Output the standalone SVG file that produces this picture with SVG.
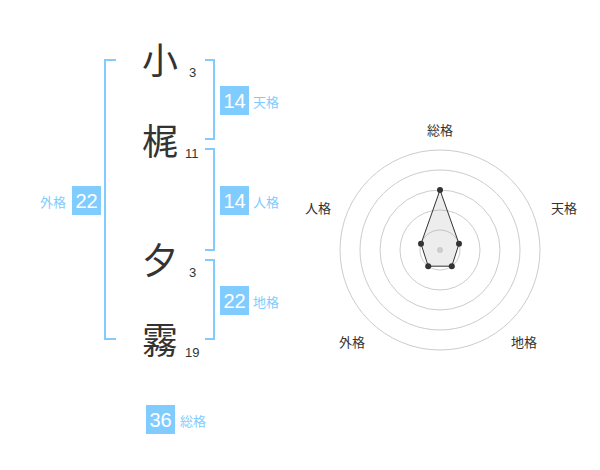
<svg xmlns="http://www.w3.org/2000/svg" width="600" height="470" viewBox="0 0 600 470">
<style>
.kanji{font-family:"Noto Sans CJK JP","Noto Sans CJK SC",sans-serif;font-size:36px;fill:#333;text-anchor:middle}
.cnt{font-family:"Liberation Sans",Arial,sans-serif;font-size:13px;fill:#333}
.br{fill:none;stroke:#80ccff;stroke-width:2}
.box{fill:#80ccff}
.bnum{font-family:"Liberation Sans",Arial,sans-serif;font-size:20px;fill:#fff;text-anchor:middle}
.blab{font-family:"Noto Sans CJK JP",sans-serif;font-size:13px;fill:#80ccff}
.ring{fill:none;stroke:#ccc;stroke-width:1}
.rlab{font-family:"Noto Sans CJK JP",sans-serif;font-size:13px;fill:#333;text-anchor:middle}
</style>
<rect width="600" height="470" fill="#fff"/>
<g id="connectors">
<path class="br" d="M116,60 H105 V339 H116"/>
<path class="br" d="M205,60 H214 V139 H205"/>
<path class="br" d="M205,149 H214 V250 H205"/>
<path class="br" d="M205,260 H214 V339 H205"/>
</g>
<g id="char1"><text class="kanji" x="160" y="74">小</text><text class="cnt" x="189" y="77">3</text></g>
<g id="char2"><text class="kanji" x="160" y="155">梶</text><text class="cnt" x="185" y="158">11</text></g>
<g id="char3"><text class="kanji" x="160" y="274">夕</text><text class="cnt" x="189" y="277">3</text></g>
<g id="char4"><text class="kanji" x="160" y="354">霧</text><text class="cnt" x="185" y="357">19</text></g>
<g id="tenkaku"><rect class="box" x="220" y="86" width="29" height="29"/><text class="bnum" x="234.5" y="108">14</text><text class="blab" x="253" y="107">天格</text></g>
<g id="jinkaku"><rect class="box" x="220" y="186" width="29" height="29"/><text class="bnum" x="234.5" y="208">14</text><text class="blab" x="253" y="207">人格</text></g>
<g id="chikaku"><rect class="box" x="220" y="286" width="29" height="29"/><text class="bnum" x="234.5" y="308">22</text><text class="blab" x="253" y="307">地格</text></g>
<g id="gaikaku"><rect class="box" x="72" y="186" width="29" height="29"/><text class="bnum" x="86.5" y="208">22</text><text class="blab" x="40" y="207">外格</text></g>
<g id="soukaku"><rect class="box" x="146" y="405" width="29" height="29"/><text class="bnum" x="160.5" y="427">36</text><text class="blab" x="180" y="426">総格</text></g>
<g id="radar">
<circle class="ring" cx="440" cy="250" r="20"/>
<circle class="ring" cx="440" cy="250" r="40"/>
<circle class="ring" cx="440" cy="250" r="60"/>
<circle class="ring" cx="440" cy="250" r="80"/>
<circle class="ring" cx="440" cy="250" r="100"/>
<polygon points="440,190 459,243.8 451.8,266.2 428.2,266.2 421,243.8" fill="#999" fill-opacity="0.18" stroke="#333" stroke-width="1"/>
<circle cx="440" cy="250" r="3" fill="#ccc"/>
<g fill="#333"><circle cx="440" cy="190" r="3"/><circle cx="459" cy="243.8" r="3"/><circle cx="451.8" cy="266.2" r="3"/><circle cx="428.2" cy="266.2" r="3"/><circle cx="421" cy="243.8" r="3"/></g>
<text class="rlab" x="440" y="135">総格</text>
<text class="rlab" x="564" y="213">天格</text>
<text class="rlab" x="318" y="213">人格</text>
<text class="rlab" x="352" y="347">外格</text>
<text class="rlab" x="524" y="347">地格</text>
</g>
</svg>
